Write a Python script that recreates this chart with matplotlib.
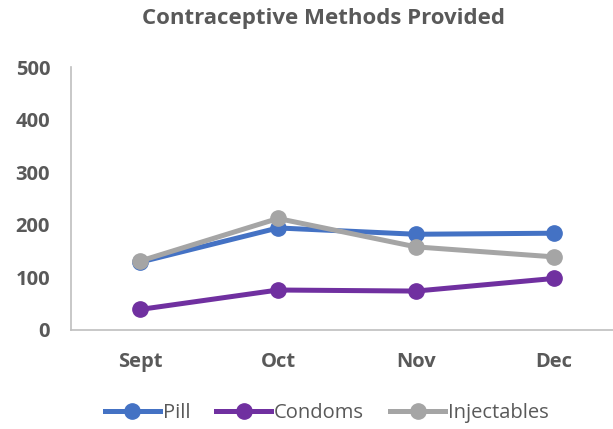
import matplotlib
matplotlib.use('Agg')
import matplotlib.pyplot as plt

months = ['Sept', 'Oct', 'Nov', 'Dec']
pill = [129, 194, 182, 184]
condoms = [39, 76, 74, 98]
injectables = [131, 212, 158, 139]

plt.rcParams['font.family'] = ['Open Sans', 'DejaVu Sans']
grey = '#595959'

fig = plt.figure(figsize=(6.13, 4.29), dpi=100)
ax = fig.add_axes([0.1158, 0.2308, 0.9005, 0.613])

x = range(len(months))
ax.plot(x, pill, color='#4472C4', lw=3.6, marker='o', ms=11, label='Pill')
ax.plot(x, condoms, color='#7030A0', lw=3.6, marker='o', ms=11, label='Condoms')
ax.plot(x, injectables, color='#A5A5A5', lw=3.6, marker='o', ms=11, label='Injectables')

ax.set_xlim(-0.5, 3.5)
ax.set_ylim(0, 500)
ax.set_yticks(range(0, 501, 100))
ax.set_xticks(list(x))
ax.set_xticklabels(months)
ax.tick_params(axis='both', length=0, labelsize=14.5, labelcolor=grey)
ax.tick_params(axis='y', pad=15)
ax.tick_params(axis='x', pad=16)
for lab in ax.get_xticklabels() + ax.get_yticklabels():
    lab.set_fontweight('bold')

for s in ['top', 'right']:
    ax.spines[s].set_visible(False)
for s in ['left', 'bottom']:
    ax.spines[s].set_color('#BFBFBF')
    ax.spines[s].set_linewidth(1.2)

fig.text(0.527, 0.958, 'Contraceptive Methods Provided', ha='center', va='center',
         fontsize=16, fontweight='bold', color=grey)

fig.legend(loc='center', bbox_to_anchor=(0.533, 0.037), ncol=3, frameon=False,
           fontsize=14.5, handlelength=2.73, handletextpad=0.15, columnspacing=1.29,
           labelcolor=grey)

fig.savefig('out.png', dpi=100)
